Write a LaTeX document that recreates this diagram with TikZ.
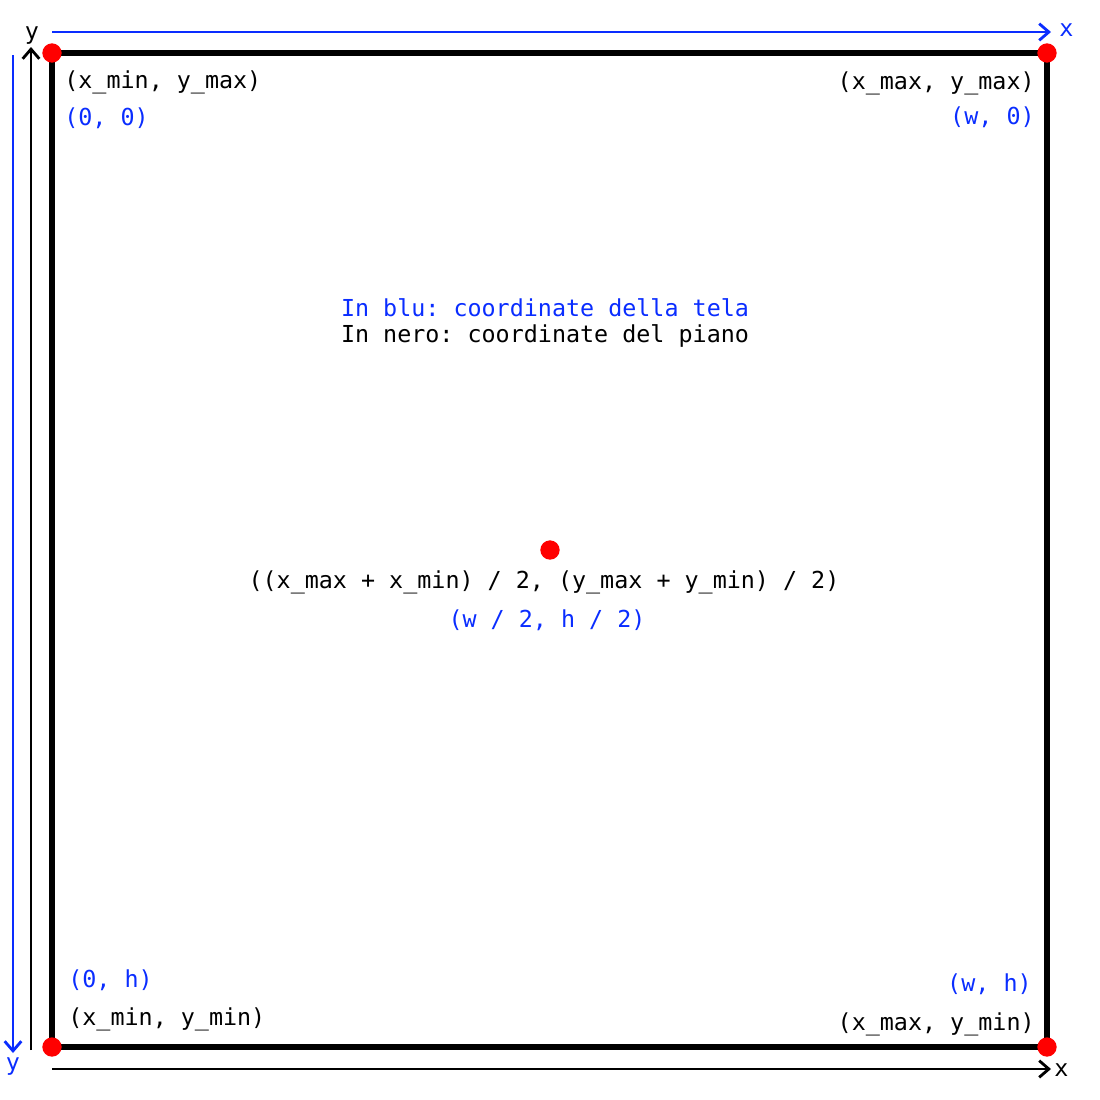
\documentclass[tikz,border=0pt]{standalone}
\usepackage{fontspec}
\setmonofont{DejaVu Sans Mono}
\usetikzlibrary{arrows.meta, positioning}
\definecolor{canvasblue}{RGB}{10,45,255}
\tikzset{
  lbl/.style={font=\ttfamily\fontsize{13.3}{16}\selectfont,inner sep=0pt},
  canvaslbl/.style={lbl,text=canvasblue},
  corner/.style={circle,fill=red,inner sep=0pt,minimum size=11pt},
  frame/.style={line width=2.9pt},
  axis/.style={line width=1.6pt,-{Straight Barb[length=5.5pt,width=9.5pt,line width=1.6pt]}}
}
\begin{document}
\begin{tikzpicture}[x=0.02cm, y=-0.02cm]
\useasboundingbox (0,0) rectangle (1100,1100);
% plane
\draw[frame] (52,53) rectangle (1047,1047);
\node[corner] (tl) at (52,53) {};
\node[corner] (tr) at (1047,53) {};
\node[corner] (bl) at (52,1047) {};
\node[corner] (br) at (1047,1047) {};
\node[corner] (mid) at (550,550) {};
% axes
\coordinate (cx0) at (52,32);
\coordinate (cx1) at (1051,32);
\coordinate (cy0) at (13,55);
\coordinate (cy1) at (13,1053);
\coordinate (px0) at (52,1069);
\coordinate (px1) at (1051,1069);
\coordinate (py0) at (31,1050);
\coordinate (py1) at (31,47);
\draw[axis, canvasblue] (cx0) -- (cx1);
\draw[axis, canvasblue] (cy0) -- (cy1);
\draw[axis] (px0) -- (px1);
\draw[axis] (py0) -- (py1);
\node[canvaslbl, anchor=west] (cxl) at (1059,30) {x};
\node[canvaslbl] (cyl) at (13,1067) {y};
\node[lbl, anchor=west] (pxl) at (1054,1070) {x};
\node[lbl] (pyl) at (32,36) {y};
% corner labels
\node[lbl, anchor=west] (tlp) at (64,82) {(x\_min, y\_max)};
\node[canvaslbl, anchor=west] (tlc) at (64,118) {(0, 0)};
\node[lbl, anchor=east] (trp) at (1035,83) {(x\_max, y\_max)};
\node[canvaslbl, anchor=east] (trc) at (1035,117) {(w, 0)};
\node[canvaslbl, anchor=west] (blc) at (68,980) {(0, h)};
\node[lbl, anchor=west] (blp) at (68,1019) {(x\_min, y\_min)};
\node[canvaslbl, anchor=east] (brc) at (1032,984) {(w, h)};
\node[lbl, anchor=east] (brp) at (1035,1024) {(x\_max, y\_min)};
% centre and legend
\node[lbl] (midp) at (544,582) {((x\_max + x\_min) / 2, (y\_max + y\_min) / 2)};
\node[canvaslbl] (midc) at (547,620) {(w / 2, h / 2)};
\node[canvaslbl] (legc) at (545,308) {In blu: coordinate della tela};
\node[lbl] (legp) at (545,336) {In nero: coordinate del piano};
\end{tikzpicture}
\end{document}
